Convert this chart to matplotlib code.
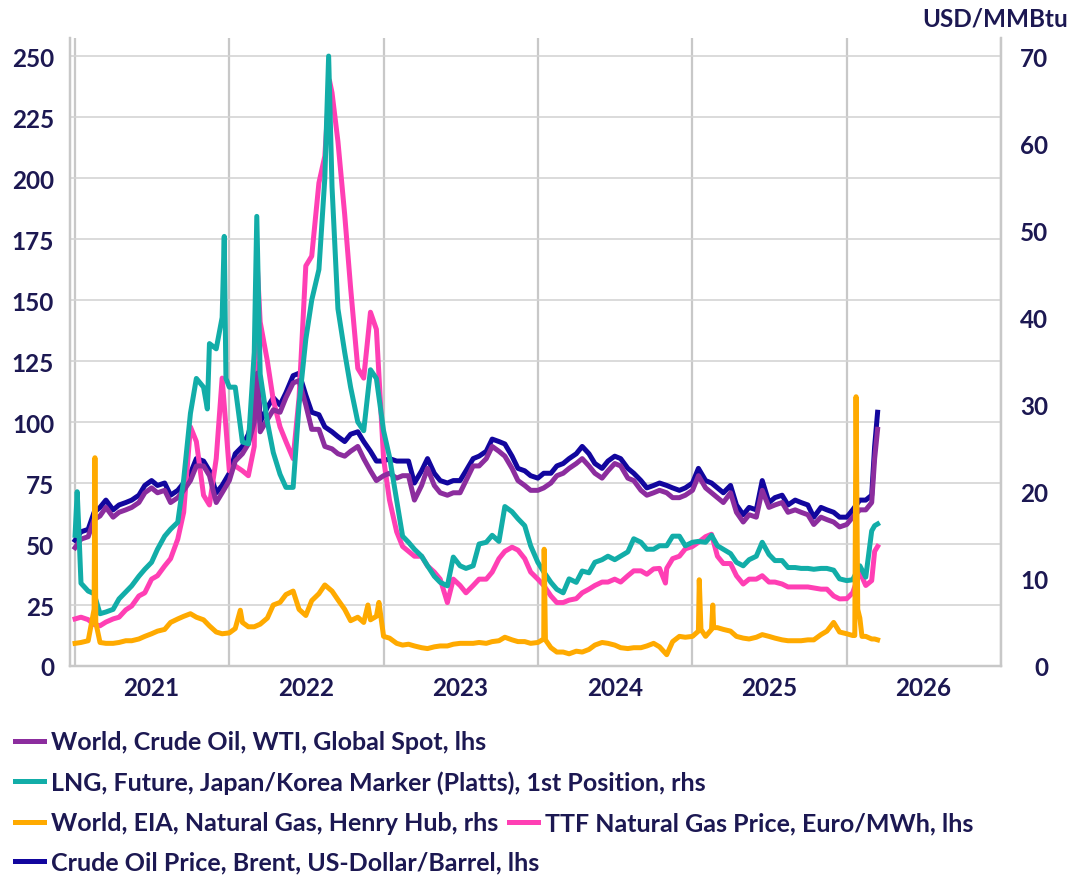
import numpy as np
import pandas as pd
import matplotlib.pyplot as plt
import matplotlib.dates as mdates

plt.rcParams['font.family'] = ['Lato', 'DejaVu Sans']
plt.rcParams['font.weight'] = 'bold'

# semi-monthly observation dates (1st and 15th), plus the last two weeks of data
dates = pd.date_range('2021-01-01', '2026-03-01', freq='SMS').append(
    pd.to_datetime(['2026-03-08', '2026-03-15']))

# Crude Oil Price, Brent, US-Dollar/Barrel (lhs)
brent = [51.5, 55, 56, 63, 65, 68, 64, 66, 67, 68, 70, 74, 76, 74, 75, 70, 72, 75, 79, 85, 84, 80, 71, 74,
         79, 87, 90, 95, 104, 100, 106, 110, 107, 112, 119, 120, 111, 104, 103, 98, 96, 94, 92, 95, 96, 92, 88, 84,
         84, 85, 84, 84, 84, 75, 80, 85, 79, 76, 75, 76, 76, 80, 85, 86, 88, 93, 92, 91, 86, 81, 80, 78,
         77, 79, 79, 82, 83, 85, 87, 90, 87, 83, 81, 84, 86, 85, 81, 79, 76, 73, 74, 75, 74, 73, 72, 73,
         75, 81, 76, 75, 73, 71, 74, 66, 62, 65, 64, 76, 67, 69, 70, 66, 68, 67, 66, 61, 65, 64, 63, 61,
         61, 64, 68, 68, 70, 90, 104]
brent_x_dates = ['2022-03-08']
brent_x_vals = [124]

# World, Crude Oil, WTI, Global Spot (lhs)
wti = [48.5, 52, 53, 60, 61.5, 65, 61, 63, 64, 65, 67, 71, 73, 71, 72, 67, 69, 72, 76, 82, 82, 78, 67, 71,
       76, 84, 87, 91, 100, 96, 101, 105, 104, 110, 116, 117, 107, 97, 97, 90, 89, 87, 86, 88, 90, 85, 80, 76,
       78, 79, 77, 78, 78, 68, 74, 81, 74, 71, 70, 71, 71, 76, 82, 82, 85, 90, 88, 86, 81, 76, 74, 72,
       72, 73, 75, 78, 79, 81, 83, 85, 82, 79, 77, 80, 83, 82, 77, 76, 72, 70, 71, 72, 71, 69, 69, 70,
       72, 78, 73, 71, 69, 67, 71, 63, 59, 62, 61, 72, 65, 66, 67, 63, 64, 63, 62, 58, 61, 60, 59, 57,
       58, 61, 64, 64, 67, 85, 97]
wti_x_dates = ['2022-03-08']
wti_x_vals = [120]

# TTF Natural Gas Price, Euro/MWh (lhs)
ttf = [19.3, 20, 19, 17, 16.5, 18, 19.3, 20, 23, 24.6, 28.7, 30, 35.6, 37, 41, 44, 52, 63, 98, 92, 70, 66, 85, 118,
       80, 82, 80, 78, 90, 141, 125, 109, 98, 92, 85, 110, 164, 168, 198, 209, 235, 215, 185, 155, 122, 118, 145, 138,
       85, 68, 55, 49, 47, 45, 45, 41, 38.5, 35.6, 26, 35.6, 33, 30, 33, 35.6, 35.6, 38.5, 44, 47, 48.7, 47.5, 44, 38.5,
       35.6, 33, 28.7, 26, 26, 27, 27.6, 30, 31.5, 33, 34.4, 34.4, 35.6, 34.4, 37, 39, 39, 37.6, 39.8, 40, 40, 44, 45, 48,
       49, 50.7, 53, 54, 45, 42, 42, 37, 33.6, 35.6, 35.6, 37, 34.4, 34.4, 33.6, 32.4, 32.4, 32.4, 32.4, 32, 31.5, 31.5, 28.7, 27.5,
       27.6, 30, 38.5, 33, 35, 47, 49]
ttf_x_dates = ['2022-03-07', '2022-08-26', '2024-10-29']
ttf_x_vals = [168, 240, 34]

# LNG, Future, Japan/Korea Marker (Platts), 1st Position (rhs)
lng = [15, 9.5, 8.6, 8.3, 6.0, 6.2, 6.5, 7.7, 8.5, 9.2, 10.3, 11.1, 11.9, 13.4, 14.9, 15.7, 16.5, 21.4, 29, 33, 32, 37, 36.4, 40,
       32, 32, 25.7, 25.5, 36, 33.5, 28, 24.5, 22, 20.5, 20.5, 30, 37.5, 42, 45.5, 56, 55, 41, 36, 32, 28, 27, 34, 33,
       27, 24, 19, 14.9, 14.2, 13.4, 12.6, 11.5, 10.3, 9.6, 9.2, 12.5, 11.5, 11.2, 11.5, 14, 14.2, 15, 14.3, 18.3, 17.7, 16.9, 16.1, 13.8,
       11.9, 10.8, 9.6, 8.8, 8.4, 10, 9.6, 10.9, 10.7, 11.9, 12.2, 12.6, 12.2, 12.6, 13.1, 14.6, 14.2, 13.4, 13.4, 13.8, 13.8, 14.9, 14.9, 13.8,
       14.2, 14.3, 14.2, 15, 13.8, 13.4, 12.9, 11.9, 11.5, 12.2, 12.6, 14.2, 12.8, 12.1, 12.1, 11.3, 11.3, 11.2, 11.2, 11.1, 11.2, 11.2, 11.0, 10.0,
       9.8, 9.9, 11.5, 10.2, 15.5, 16.1, 16.3]
lng_x_dates = ['2021-01-06', '2021-01-10', '2021-11-10', '2021-12-20', '2021-12-24', '2022-03-07', '2022-08-24']
lng_x_vals = [20, 15.5, 29.5, 49.3, 33, 51.6, 70]

# World, EIA, Natural Gas, Henry Hub (rhs)
hh = [2.6, 2.7, 2.9, 6.5, 2.7, 2.6, 2.6, 2.7, 2.9, 2.9, 3.1, 3.4, 3.7, 4.0, 4.2, 5.0, 5.4, 5.7, 6.0, 5.6, 5.3, 4.6, 3.9, 3.7,
      3.8, 4.3, 5.0, 4.5, 4.5, 4.8, 5.5, 7.0, 7.3, 8.2, 8.6, 6.5, 5.8, 7.5, 8.3, 9.3, 8.6, 7.6, 6.5, 5.2, 5.6, 5.0, 5.3, 5.7,
      3.4, 3.2, 2.6, 2.4, 2.5, 2.3, 2.1, 2.0, 2.2, 2.3, 2.3, 2.5, 2.6, 2.6, 2.6, 2.7, 2.6, 2.8, 2.9, 3.3, 3.0, 2.8, 2.8, 2.6,
      2.7, 3.1, 2.1, 1.6, 1.6, 1.4, 1.7, 1.6, 1.9, 2.4, 2.7, 2.6, 2.4, 2.1, 2.0, 2.1, 2.1, 2.3, 2.6, 2.2, 1.3, 2.8, 3.4, 3.3,
      3.4, 4.0, 3.4, 4.2, 4.4, 4.2, 4.0, 3.4, 3.2, 3.1, 3.3, 3.6, 3.4, 3.2, 3.0, 2.9, 2.9, 2.9, 3.0, 3.0, 3.6, 4.0, 5.0, 3.9,
      3.7, 3.5, 5.5, 3.4, 3.1, 3.1, 3.0]
hh_x_dates = ['2021-02-17', '2021-02-19', '2022-01-27', '2022-11-25', '2022-12-21', '2024-01-16', '2024-01-19',
              '2025-01-17', '2025-01-21', '2025-02-18', '2025-02-20',
              '2026-01-20', '2026-01-23', '2026-01-27', '2026-02-06']
hh_x_vals = [23.9, 5.0, 6.4, 7.0, 7.3, 13.4, 3.0, 9.9, 4.2, 7.0, 4.4, 3.5, 30.9, 6.5, 3.4]

c_wti = '#8C2D9E'
c_lng = '#12ADA8'
c_hh = '#FFAA00'
c_ttf = '#FF3FB4'
c_brent = '#12069E'
c_text = '#1C1852'
c_grid = '#D4D4D4'


def series(vals, x_dates, x_vals):
    s = pd.Series(vals, index=dates, dtype=float)
    extra = pd.Series(x_vals, index=pd.to_datetime(x_dates), dtype=float)
    return pd.concat([s, extra]).sort_index()


W, H = 1074, 878
fig = plt.figure(figsize=(W / 100, H / 100), dpi=100)
ax = fig.add_axes([70 / W, 1 - 667 / H, (1001 - 70) / W, (667 - 39) / H])
ax2 = ax.twinx()

lw = 3.6
s = series(brent, brent_x_dates, brent_x_vals)
l_brent, = ax.plot(s.index, s.values, color=c_brent, lw=lw)
s = series(ttf, ttf_x_dates, ttf_x_vals)
l_ttf, = ax.plot(s.index, s.values, color=c_ttf, lw=lw)
s = series(wti, wti_x_dates, wti_x_vals)
l_wti, = ax.plot(s.index, s.values, color=c_wti, lw=lw)
s = series(lng, lng_x_dates, lng_x_vals)
l_lng, = ax2.plot(s.index, s.values, color=c_lng, lw=lw)
s = series(hh, hh_x_dates, hh_x_vals)
l_hh, = ax2.plot(s.index, s.values, color=c_hh, lw=lw)

# axes ranges: 250 on the left lines up with 70 on the right
top = 257.4
ax.set_ylim(0, top)
ax2.set_ylim(0, top * 70 / 250)
ax.set_xlim(pd.Timestamp('2020-12-20'), pd.Timestamp('2027-01-01'))
ax.set_yticks(np.arange(0, 251, 25))
ax2.set_yticks(np.arange(0, 71, 10))

ax.xaxis.set_major_locator(mdates.YearLocator())
ax.xaxis.set_major_formatter(plt.NullFormatter())
ax.xaxis.set_minor_locator(mdates.MonthLocator(bymonth=7, bymonthday=1))
ax.xaxis.set_minor_formatter(mdates.DateFormatter('%Y'))

ax.grid(axis='y', color=c_grid, lw=1.2)
ax.grid(axis='x', which='major', color='#C8C8C8', lw=1.6)
ax.set_axisbelow(True)

for a in (ax, ax2):
    for side in ('left', 'right', 'bottom'):
        a.spines[side].set_color('#C8C8C8')
        a.spines[side].set_linewidth(1.6)
    a.spines['top'].set_visible(False)

tick_kw = dict(length=0, labelsize=17.5, labelcolor=c_text)
ax.tick_params(axis='y', pad=11.5, **tick_kw)
ax.tick_params(axis='x', which='both', pad=7, **tick_kw)
ax2.tick_params(axis='y', pad=34, **tick_kw)
for t in ax2.get_yticklabels():
    t.set_horizontalalignment('right')

fig.text(1068 / W, 1 - 19 / H, 'USD/MMBtu', ha='right', va='center',
         fontsize=17.5, color=c_text)

# legend rows
entries = [
    (l_wti, 'World, Crude Oil, WTI, Global Spot, lhs', 15, 743),
    (l_lng, 'LNG, Future, Japan/Korea Marker (Platts), 1st Position, rhs', 15, 783),
    (l_hh, 'World, EIA, Natural Gas, Henry Hub, rhs', 15, 824),
    (l_ttf, 'TTF Natural Gas Price, Euro/MWh, lhs', 509, 824),
    (l_brent, 'Crude Oil Price, Brent, US-Dollar/Barrel, lhs', 15, 863),
]
for line, label, px, py in entries:
    leg = fig.legend([line], [label], loc='center left', bbox_to_anchor=(px / W, 1 - py / H),
                     frameon=False, borderpad=0, borderaxespad=0, handlelength=1.15,
                     handletextpad=0.3, prop=dict(size=18, weight='bold'))
    for t in leg.get_texts():
        t.set_color(c_text)

fig.savefig('out.png', dpi=100)
